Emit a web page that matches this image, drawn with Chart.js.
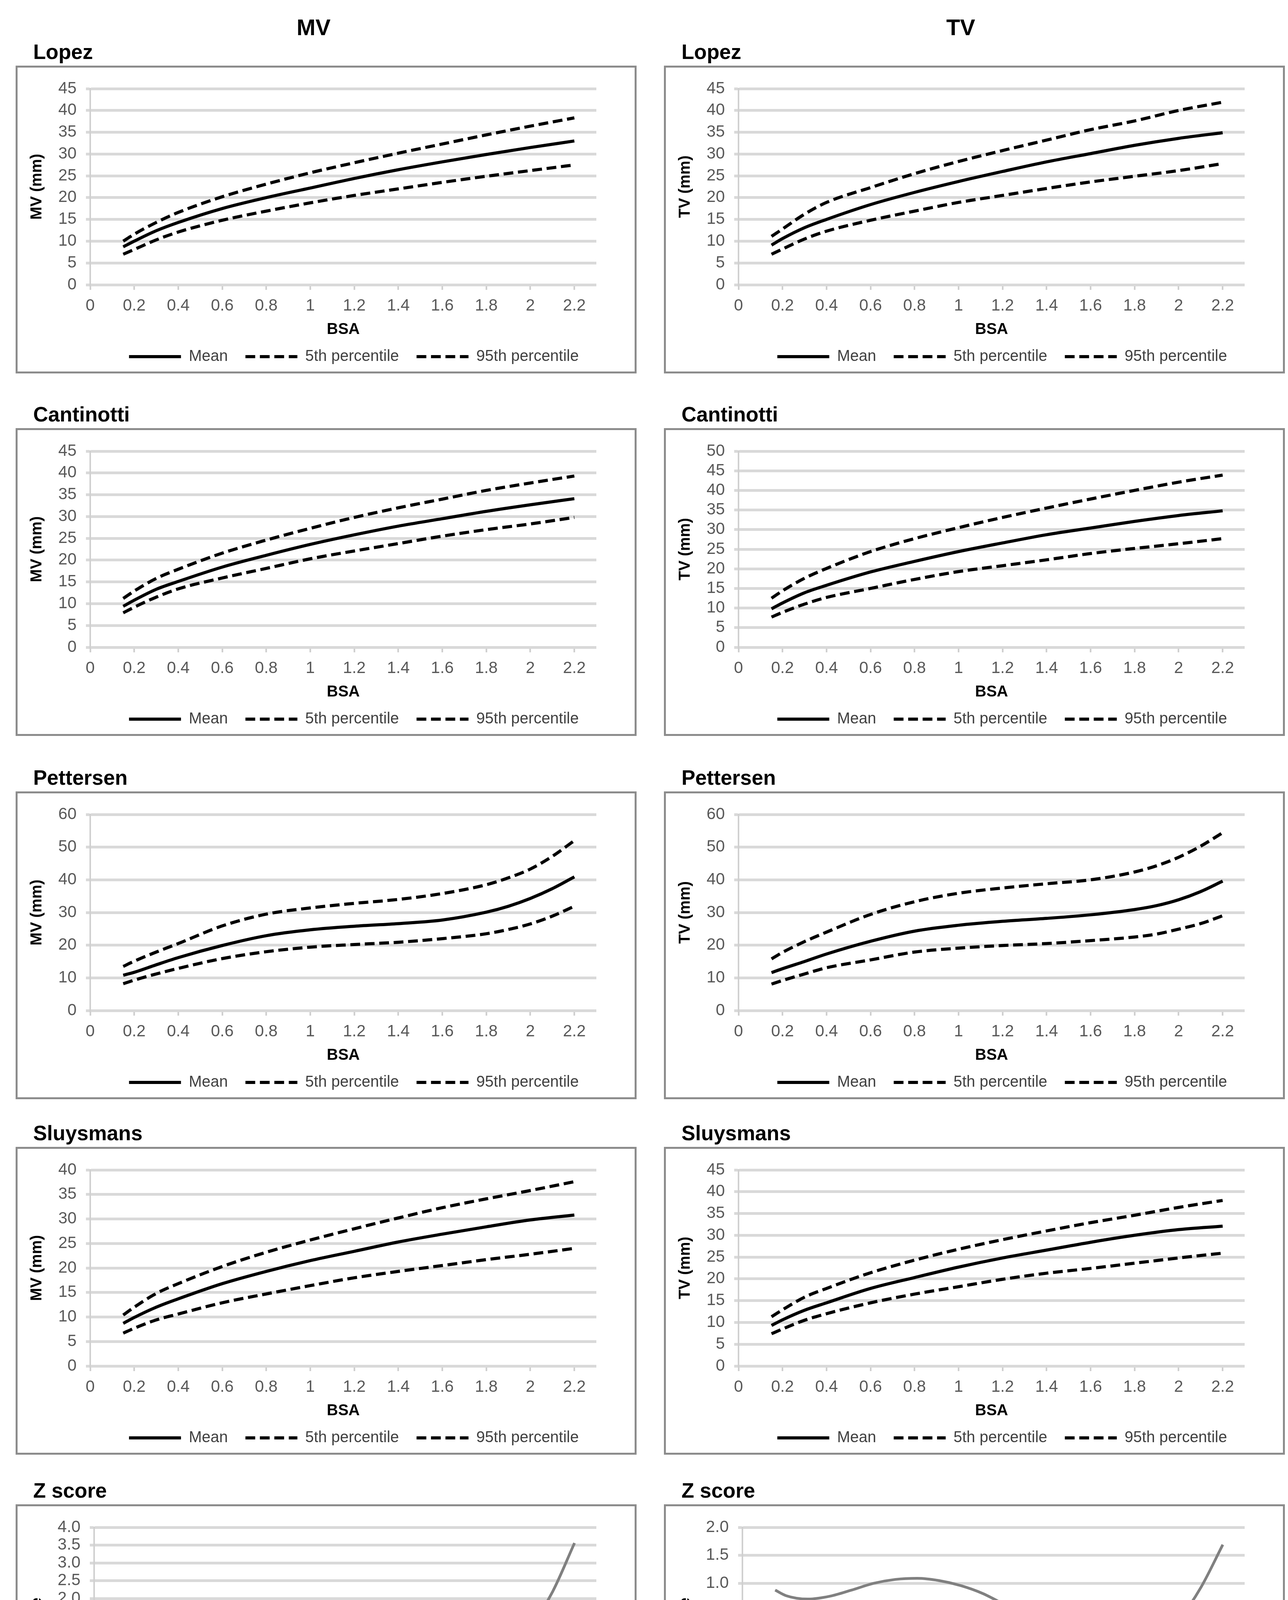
<!DOCTYPE html>
<html><head><meta charset="utf-8">
<script src="https://cdn.jsdelivr.net/npm/chart.js@4.4.1/dist/chart.umd.min.js"></script>
<style>
html,body{margin:0;padding:0;background:#fff;}
body{width:3298px;height:4678px;position:relative;overflow:hidden;font-family:'Liberation Sans',Arial,sans-serif;}
.hdr{position:absolute;top:38px;width:400px;height:64px;line-height:64px;text-align:center;font-weight:bold;font-size:58px;color:#000;}
.ttl{position:absolute;height:60px;line-height:60px;font-weight:bold;font-size:53px;color:#000;white-space:nowrap;}
.box{position:absolute;width:1590px;height:788px;border:5px solid #8c8c8c;box-sizing:border-box;background:#fff;}
.box canvas{position:absolute;left:0;top:0;}
</style></head><body>
<div class="hdr" style="left:603px">MV</div>
<div class="hdr" style="left:2260px">TV</div>
<script>
// ---------- tick labels ----------
const bsaTicks = [0,0.2,0.4,0.6,0.8,1.0,1.2,1.4,1.6,1.8,2.0,2.2];
const ticks40 = [0,5,10,15,20,25,30,35,40];
const ticks45 = [0,5,10,15,20,25,30,35,40,45];
const ticks50 = [0,5,10,15,20,25,30,35,40,45,50];
const ticks60 = [0,10,20,30,40,50,60];
const zTicksMV = [-1.5,-1.0,-0.5,0.0,0.5,1.0,1.5,2.0,2.5,3.0,3.5,4.0];
const zTicksTV = [-1.5,-1.0,-0.5,0.0,0.5,1.0,1.5,2.0];

// ---------- BSA sample points ----------
const bsaA = [0.15,0.2,0.3,0.4,0.6,0.8,1.0,1.2,1.4,1.6,1.8,2.0,2.2];
const bsaP = [0.15,0.2,0.3,0.4,0.6,0.8,1.0,1.2,1.4,1.6,1.8,1.9,2.0,2.1,2.2];
const bsaZ = [0.15,0.2,0.3,0.4,0.5,0.6,0.7,0.8,0.9,1.0,1.1,1.2,1.3,1.4,1.5,1.6,1.7,1.8,1.9,2.0,2.1,2.2];

// ---------- Lopez ----------
const lopezMvMean = [8.7,10.0,12.4,14.3,17.5,20.0,22.2,24.4,26.4,28.2,29.9,31.5,33.0];
const lopezMvP5   = [7.0,8.1,10.3,12.1,14.8,16.9,18.8,20.5,22.0,23.5,24.9,26.2,27.5];
const lopezMvP95  = [10.0,11.6,14.3,16.6,20.2,23.1,25.7,28.0,30.2,32.3,34.4,36.4,38.3];
const lopezTvMean = [9.1,10.6,13.1,15.0,18.4,21.2,23.7,26.0,28.2,30.1,32.0,33.6,34.9];
const lopezTvP5   = [7.0,8.2,10.5,12.3,14.8,16.9,18.9,20.5,22.1,23.6,24.9,26.2,27.8];
const lopezTvP95  = [11.1,12.8,16.2,18.9,22.3,25.5,28.3,30.8,33.2,35.6,37.6,40.0,41.9];
// ---------- Cantinotti ----------
const cantMvMean = [9.4,10.8,13.3,15.1,18.4,21.1,23.6,25.8,27.8,29.5,31.2,32.7,34.1];
const cantMvP5   = [7.9,9.2,11.5,13.4,15.9,18.1,20.3,22.1,23.8,25.5,27.0,28.3,29.8];
const cantMvP95  = [11.2,12.9,15.8,17.9,21.6,24.6,27.3,29.8,32.0,34.0,36.0,37.7,39.3];
const cantTvMean = [9.8,11.3,13.9,15.8,19.2,21.9,24.4,26.6,28.7,30.4,32.1,33.6,34.8];
const cantTvP5   = [7.7,8.9,11.0,12.7,15.0,17.3,19.3,20.8,22.3,23.9,25.2,26.4,27.7];
const cantTvP95  = [12.5,14.4,17.6,20.1,24.4,27.7,30.5,33.1,35.5,37.8,40.0,42.1,43.9];
// ---------- Pettersen ----------
const pettMvMean = [10.8,11.7,14.0,16.2,19.9,22.9,24.7,25.8,26.6,27.7,30.1,31.9,34.3,37.3,40.9];
const pettMvP5   = [8.2,9.3,11.2,12.9,15.9,18.0,19.4,20.2,20.9,22.0,23.5,24.8,26.5,28.9,31.9];
const pettMvP95  = [13.5,15.1,17.9,20.5,25.9,29.5,31.4,32.8,34.0,35.8,38.5,40.6,43.3,47.2,52.0];
const pettTvMean = [11.6,12.8,15.0,17.3,21.2,24.3,26.1,27.3,28.2,29.3,30.9,32.1,33.9,36.4,39.6];
const pettTvP5   = [8.1,9.2,11.2,13.1,15.5,17.9,19.1,19.9,20.5,21.4,22.5,23.4,24.9,26.6,29.0];
const pettTvP95  = [15.8,17.8,21.1,24.0,29.4,33.3,35.9,37.5,38.8,40.0,42.4,44.3,46.9,50.3,54.4];
// ---------- Sluysmans ----------
const sluyMvMean = [8.7,9.9,12.0,13.7,16.8,19.3,21.5,23.4,25.3,26.9,28.4,29.8,30.8];
const sluyMvP5   = [6.7,7.7,9.4,10.6,12.9,14.7,16.4,18.0,19.3,20.5,21.7,22.8,24.0];
const sluyMvP95  = [10.4,12.0,14.8,16.8,20.3,23.2,25.7,28.0,30.2,32.3,34.1,35.8,37.6];
const sluyTvMean = [9.3,10.6,12.8,14.5,17.8,20.3,22.7,24.8,26.6,28.4,30.0,31.3,32.1];
const sluyTvP5   = [7.4,8.5,10.5,12.0,14.5,16.5,18.2,19.9,21.3,22.4,23.6,24.8,25.9];
const sluyTvP95  = [11.3,12.9,15.8,17.8,21.4,24.3,26.8,29.0,31.0,32.9,34.6,36.4,38.0];
// ---------- Z scores ----------
const zMvCant = [0.46,0.48,0.52,0.55,0.57,0.58,0.59,0.60,0.60,0.60,0.60,0.60,0.59,0.58,0.57,0.56,0.56,0.55,0.54,0.53,0.52,0.51];
const zMvPett = [0.92,0.77,0.74,0.81,0.96,1.08,1.19,1.22,1.17,1.05,0.86,0.64,0.39,0.17,0.03,-0.07,-0.08,0.10,0.45,1.20,2.20,3.56];
const zMvSluy = [0.05,0.02,-0.05,-0.11,-0.17,-0.23,-0.29,-0.34,-0.40,-0.45,-0.50,-0.54,-0.59,-0.64,-0.69,-0.73,-0.78,-0.82,-0.86,-0.90,-0.93,-0.96];
const zTvCant = [0.29,0.29,0.29,0.28,0.27,0.25,0.24,0.23,0.21,0.20,0.18,0.17,0.15,0.14,0.12,0.10,0.08,0.06,0.04,0.02,0.00,-0.02];
const zTvPett = [0.88,0.78,0.72,0.77,0.88,1.00,1.07,1.09,1.05,0.96,0.82,0.62,0.40,0.18,0.00,-0.14,-0.21,-0.18,-0.05,0.35,0.93,1.69];
const zTvSluy = [0.08,0.05,-0.03,-0.10,-0.17,-0.23,-0.29,-0.35,-0.40,-0.45,-0.50,-0.55,-0.60,-0.64,-0.69,-0.73,-0.77,-0.81,-0.85,-0.89,-0.93,-0.97];

const legendPct = ['Mean','5th percentile','95th percentile'];
const legendZ = ['Cantinotti','Pettersen','Sluysmans'];

// ---------- layout ----------
const FONT = "'Liberation Sans', Arial, sans-serif";
Chart.defaults.font.family = FONT;
const colLeft = [40, 1700];
const rowTop = [168, 1096, 2026, 2936, 3851];

function pct(mean, p5, p95) {
  return [
    {label: legendPct[0], values: mean, color: '#000', width: 8, dash: []},
    {label: legendPct[1], values: p5, color: '#000', width: 8, dash: [25, 12]},
    {label: legendPct[2], values: p95, color: '#000', width: 8, dash: [25, 12]}
  ];
}
function zs(c, p, s) {
  return [
    {label: legendZ[0], values: c, color: '#000000', width: 10, dash: []},
    {label: legendZ[1], values: p, color: '#808080', width: 7, dash: []},
    {label: legendZ[2], values: s, color: '#c4c4c4', width: 7, dash: []}
  ];
}

const panels = [
  {col:0,row:0,title:'Lopez',yTitle:'MV (mm)',x:bsaA,yt:ticks45,ds:pct(lopezMvMean,lopezMvP5,lopezMvP95)},
  {col:1,row:0,title:'Lopez',yTitle:'TV (mm)',x:bsaA,yt:ticks45,ds:pct(lopezTvMean,lopezTvP5,lopezTvP95)},
  {col:0,row:1,title:'Cantinotti',yTitle:'MV (mm)',x:bsaA,yt:ticks45,ds:pct(cantMvMean,cantMvP5,cantMvP95)},
  {col:1,row:1,title:'Cantinotti',yTitle:'TV (mm)',x:bsaA,yt:ticks50,ds:pct(cantTvMean,cantTvP5,cantTvP95)},
  {col:0,row:2,title:'Pettersen',yTitle:'MV (mm)',x:bsaP,yt:ticks60,ds:pct(pettMvMean,pettMvP5,pettMvP95)},
  {col:1,row:2,title:'Pettersen',yTitle:'TV (mm)',x:bsaP,yt:ticks60,ds:pct(pettTvMean,pettTvP5,pettTvP95)},
  {col:0,row:3,title:'Sluysmans',yTitle:'MV (mm)',x:bsaA,yt:ticks40,ds:pct(sluyMvMean,sluyMvP5,sluyMvP95)},
  {col:1,row:3,title:'Sluysmans',yTitle:'TV (mm)',x:bsaA,yt:ticks45,ds:pct(sluyTvMean,sluyTvP5,sluyTvP95)},
  {col:0,row:4,title:'Z score',yTitle:'Z score',x:bsaZ,yt:zTicksMV,z:true,ds:zs(zMvCant,zMvPett,zMvSluy)},
  {col:1,row:4,title:'Z score',yTitle:'Z score',x:bsaZ,yt:zTicksTV,z:true,ds:zs(zTvCant,zTvPett,zTvSluy)}
];

const fmtX = v => String(Math.round(v * 10) / 10);
const fmtZ = v => (v < -1e-9 ? '\u2212' : '') + Math.abs(v).toFixed(1);

const CW = 1580, CH = 778;
const PLOT_TOP = 54, PLOT_BOTTOM = 556, LEG_Y = 740, BSA_Y = 671;

panels.forEach(p => {
  const L = colLeft[p.col], T = rowTop[p.row];
  const t = document.createElement('div');
  t.className = 'ttl'; t.textContent = p.title;
  t.style.left = (L + 45) + 'px'; t.style.top = (T - 65) + 'px';
  document.body.appendChild(t);
  const box = document.createElement('div');
  box.className = 'box'; box.style.left = L + 'px'; box.style.top = T + 'px';
  const cv = document.createElement('canvas');
  cv.width = CW; cv.height = CH; cv.style.width = CW + 'px'; cv.style.height = CH + 'px';
  box.appendChild(cv); document.body.appendChild(box);

  const legPad = p.z ? 33 : 45;
  const axisBottom = LEG_Y - legPad - 20;
  const xH = axisBottom - PLOT_BOTTOM;
  const titlePadBottom = axisBottom - 24 - BSA_Y;
  const legH = 40 + legPad + 10;
  const padBottom = Math.max(0, CH - axisBottom - legH);
  const yW = p.z ? 196 : 186;

  new Chart(cv, {
    type: 'line',
    data: {
      datasets: p.ds.map(d => ({
        label: d.label,
        data: p.x.map((x, i) => ({x: x, y: d.values[i]})),
        borderColor: d.color, backgroundColor: d.color,
        borderWidth: d.width, borderDash: d.dash,
        pointRadius: 0, pointHoverRadius: 0, pointHitRadius: 0,
        fill: false, cubicInterpolationMode: 'monotone',
        borderCapStyle: 'butt', clip: false
      }))
    },
    options: {
      responsive: false, animation: false, devicePixelRatio: 1, events: [],
      layout: {padding: {top: PLOT_TOP, right: 98, bottom: padBottom, left: 0}},
      plugins: {
        tooltip: {enabled: false},
        legend: {
          position: 'bottom',
          align: p.z ? 'center' : 'end',
          fullSize: !p.z,
          labels: {
            usePointStyle: true, pointStyle: 'line',
            pointStyleWidth: p.z ? 105 : 133,
            padding: legPad, color: '#404040',
            font: {size: 40, family: FONT},
            generateLabels: chart => {
              const items = Chart.defaults.plugins.legend.labels.generateLabels(chart);
              items.forEach(it => {
                const ds = chart.data.datasets[it.datasetIndex];
                it.lineDash = ds.borderDash || [];
                it.lineWidth = ds.borderWidth;
                it.strokeStyle = ds.borderColor;
                it.lineCap = 'butt';
              });
              return items;
            }
          }
        }
      },
      scales: {
        x: {
          type: 'linear', min: 0, max: 2.3,
          afterBuildTicks: s => { s.ticks = bsaTicks.map(v => ({value: v})); },
          afterFit: s => { s.height = xH; },
          grid: {drawOnChartArea: false, drawTicks: true, tickLength: 13, tickColor: '#cdcdcd', tickWidth: 4},
          border: {display: false},
          ticks: {padding: 16, color: '#595959', font: {size: 42}, maxRotation: 0, autoSkip: false,
                  callback: v => fmtX(v)},
          title: {display: true, text: 'BSA', color: '#000', font: {size: 40, weight: 'bold'},
                  padding: {top: 0, bottom: titlePadBottom}}
        },
        y: {
          type: 'linear', min: p.yt[0], max: p.yt[p.yt.length - 1],
          afterBuildTicks: s => { s.ticks = p.yt.map(v => ({value: v})); },
          afterFit: s => { s.width = yW; },
          grid: {color: '#d9d9d9', lineWidth: 7, drawTicks: true, tickLength: 11},
          border: {display: true, color: '#d0d0d0', width: 4},
          ticks: {padding: 24, color: '#595959', font: {size: 42}, autoSkip: false,
                  callback: v => p.z ? fmtZ(v) : String(v)},
          title: {display: true, text: p.yTitle, color: '#000', font: {size: 40, weight: 'bold'},
                  padding: {top: 26, bottom: 0}}
        }
      }
    }
  });
});
</script>
</body></html>
